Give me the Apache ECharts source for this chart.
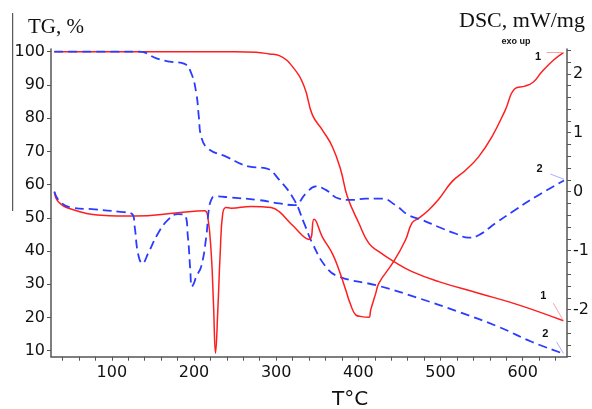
<!DOCTYPE html>
<html><head><meta charset="utf-8">
<script src="https://cdn.jsdelivr.net/npm/echarts@6/dist/echarts.min.js"></script>
<style>html,body{margin:0;padding:0;background:#fff}#c{width:592px;height:409px}</style>
</head><body><div id="c"></div>
<script>
// TG curve 1 (red, left axis)
const tg1T = [30, 100, 200, 250, 275.5, 291.7, 303.8, 319.9, 334.1, 344.2, 356.3, 368.4, 378.6, 386.6, 400.8, 412.9, 425.1, 443.3, 465.4, 497.8, 546.3, 594.8, 649.6];
const tg1V = [100, 100, 100, 100, 99.8, 99.3, 98.8, 95.5, 89.5, 80.9, 76.4, 71.4, 64.4, 56.4, 48.3, 42.3, 39.8, 36.8, 33.8, 30.8, 27.3, 23.8, 19.0];
// TG curve 2 (blue dashed, left axis)
const tg2T = [30, 100, 134, 154.3, 170.4, 188.6, 196.7, 202.8, 205.9, 208.8, 216.8, 239.1, 267.4, 287.7, 303.8, 322.0, 334.1, 344.2, 360.4, 376.5, 425.1, 473.6, 522.1, 570.6, 610.9, 648.5];
const tg2V = [100, 100, 100, 98.0, 97.0, 96.3, 93.5, 87.5, 80.4, 74.4, 70.9, 68.4, 65.4, 64.9, 61.4, 55.4, 48.3, 42.3, 35.3, 32.3, 29.5, 25.8, 21.7, 17.2, 12.7, 9.2];
// DSC curve 1 (red, right axis)
const dsc1T = [30.1, 34.9, 51.2, 87.6, 127.9, 180.5, 212.8, 216.8, 221.0, 223.7, 226.2, 229.0, 231.9, 235.0, 239.1, 245.2, 269.5, 293.7, 303.8, 319.9, 340.2, 346.2, 356.3, 368.4, 376.5, 384.7, 390.7, 396.8, 404, 412.9, 415.0, 421.1, 425.1, 443.3, 457.4, 465.4, 473.6, 485.7, 497.8, 514.0, 530.2, 546.3, 562.5, 578.7, 590.8, 602.9, 613.0, 623.1, 637.3, 649.6];
const dsc1V = [0.0, -0.17, -0.30, -0.40, -0.415, -0.36, -0.325, -0.43, -1.05, -1.89, -2.74, -2.01, -1.05, -0.37, -0.27, -0.28, -0.25, -0.27, -0.34, -0.57, -0.81, -0.47, -0.77, -1.05, -1.33, -1.67, -1.92, -2.09, -2.12, -2.13, -2.01, -1.73, -1.55, -1.18, -0.82, -0.53, -0.45, -0.31, -0.13, 0.17, 0.36, 0.59, 0.93, 1.38, 1.75, 1.79, 1.86, 2.03, 2.23, 2.36];
// DSC curve 2 (blue dashed, right axis)
const dsc2T = [30.1, 37.0, 51.2, 79.4, 107.7, 124.7, 127.9, 131.9, 137.3, 144.1, 156.2, 168.3, 180.5, 188.6, 192.6, 195.5, 197.4, 200, 202.8, 208.8, 214.9, 218.0, 221.0, 225.0, 245.2, 277.5, 303.8, 322.0, 336.2, 348.3, 360.4, 376.5, 392.7, 408.9, 429.1, 445.3, 461.4, 477.6, 497.8, 518.1, 534.2, 546.3, 566.6, 590.8, 619.1, 650.3];
const dsc2V = [0.0, -0.17, -0.27, -0.30, -0.34, -0.38, -0.60, -1.05, -1.22, -1.05, -0.71, -0.48, -0.38, -0.40, -0.77, -1.33, -1.61, -1.55, -1.44, -1.27, -0.77, -0.31, -0.14, -0.08, -0.10, -0.14, -0.20, -0.23, -0.03, 0.09, 0.03, -0.12, -0.14, -0.12, -0.12, -0.23, -0.40, -0.48, -0.60, -0.71, -0.78, -0.74, -0.54, -0.31, -0.06, 0.19];

// ticks and labels
const xTicks = [40, 60, 80, 100, 120, 140, 160, 180, 200, 220, 240, 260, 280, 300, 320, 340, 360, 380, 400, 420, 440, 460, 480, 500, 520, 540, 560, 580, 600, 620, 640];
const xLabels = [100, 200, 300, 400, 500, 600];
const tgTicks = [10, 20, 30, 40, 50, 60, 70, 80, 90, 100];
const dscTicks = [-2.8, -2.6, -2.4, -2.2, -2, -1.8, -1.6, -1.4, -1.2, -1, -0.8, -0.6, -0.4, -0.2, 0, 0.2, 0.4, 0.6, 0.8, 1, 1.2, 1.4, 1.6, 1.8, 2, 2.2, 2.4];
const dscLabels = [-2, -1, 0, 1, 2];

// curve-end indicator segments [x1, y1, x2, y2]
const ind1TopDSC = [629.2, 2.36, 650.3, 2.36];
const ind2TopDSC = [633.6, 0.30, 650.3, 0.21];
const ind1BotTG = [637.3, 24.3, 649.6, 19.0];
const ind2BotTG = [641.3, 12.6, 649.6, 9.2];

const zip = (a, b) => a.map((v, i) => [v, b[i]]);
const RED = '#ff1e1e', BLUE = '#2a3cff';
const seg = (s, color) => ({
  silent: true, symbol: ['none', 'none'], animation: false,
  label: { show: false },
  lineStyle: { color: color, width: 1, type: 'solid' },
  data: [[{ coord: [s[0], s[1]] }, { coord: [s[2], s[3]] }]]
});

const chart = echarts.init(document.getElementById('c'), null, { renderer: 'canvas' });
const axisLineStyle = { color: '#555', width: 1.5 };
const lab = { color: '#111', fontFamily: 'DejaVu Sans', fontSize: 16 };
const SM = 0.45;
chart.setOption({
  animation: false,
  backgroundColor: '#fff',
  grid: { left: 51, right: 23, top: 49, bottom: 52.3 },
  xAxis: {
    type: 'value', min: 26, max: 654,
    axisLine: { show: true, onZero: false, lineStyle: axisLineStyle },
    axisTick: { show: true, length: 4, lineStyle: { color: '#555' }, customValues: xTicks },
    axisLabel: Object.assign({ margin: 8, customValues: xLabels }, lab),
    splitLine: { show: false }
  },
  yAxis: [
    {
      type: 'value', min: 8.2, max: 100.8, position: 'left',
      axisLine: { show: true, onZero: false, lineStyle: axisLineStyle },
      axisTick: { show: true, length: 4, lineStyle: { color: '#555' }, customValues: tgTicks },
      axisLabel: Object.assign({ margin: 6, customValues: tgTicks }, lab),
      splitLine: { show: false }
    },
    {
      type: 'value', min: -2.8, max: 2.42, position: 'right',
      axisLine: { show: true, onZero: false, lineStyle: axisLineStyle },
      axisTick: { show: true, length: 4, lineStyle: { color: '#555' }, customValues: dscTicks },
      axisLabel: Object.assign({ margin: 6, customValues: dscLabels }, lab),
      splitLine: { show: false }
    }
  ],
  series: [
    { type: 'line', yAxisIndex: 0, data: zip(tg1T, tg1V), showSymbol: false, smooth: SM,
      lineStyle: { color: RED, width: 1.5 }, markLine: seg(ind1BotTG, '#f7a3a3') },
    { type: 'line', yAxisIndex: 0, data: zip(tg2T, tg2V), showSymbol: false, smooth: SM,
      lineStyle: { color: BLUE, width: 1.8, type: [9, 5] }, markLine: seg(ind2BotTG, '#a8b0ff') },
    { type: 'line', yAxisIndex: 1, data: zip(dsc1T, dsc1V), showSymbol: false, smooth: SM,
      lineStyle: { color: RED, width: 1.5 }, markLine: seg(ind1TopDSC, '#f7a3a3') },
    { type: 'line', yAxisIndex: 1, data: zip(dsc2T, dsc2V), showSymbol: false, smooth: SM,
      lineStyle: { color: BLUE, width: 1.8, type: [9, 5] }, markLine: seg(ind2TopDSC, '#a8b0ff') }
  ],
  graphic: [
    { type: 'line', shape: { x1: 12.7, y1: 13, x2: 12.7, y2: 211 }, style: { stroke: '#333', lineWidth: 1 } },
    { type: 'text', style: { text: 'TG, %', x: 28, y: 27.5, font: '21px "Liberation Serif"', fill: '#111', textAlign: 'left', align: 'left', textVerticalAlign: 'middle', verticalAlign: 'middle' } },
    { type: 'text', style: { text: 'DSC, mW/mg', x: 459, y: 21.5, font: '22px "Liberation Serif"', fill: '#111', textAlign: 'left', align: 'left', textVerticalAlign: 'middle', verticalAlign: 'middle' } },
    { type: 'text', style: { text: 'exo up', x: 516, y: 42, font: 'bold 9px "Liberation Sans"', fill: '#111', textAlign: 'center', align: 'center', textVerticalAlign: 'middle', verticalAlign: 'middle' } },
    { type: 'text', style: { text: '1', x: 538, y: 57, font: 'bold 11px "Liberation Sans"', fill: '#111', textAlign: 'center', align: 'center', textVerticalAlign: 'middle', verticalAlign: 'middle' } },
    { type: 'text', style: { text: '2', x: 539.5, y: 169, font: 'bold 11px "Liberation Sans"', fill: '#111', textAlign: 'center', align: 'center', textVerticalAlign: 'middle', verticalAlign: 'middle' } },
    { type: 'text', style: { text: '1', x: 543.3, y: 295.5, font: 'bold 11px "Liberation Sans"', fill: '#111', textAlign: 'center', align: 'center', textVerticalAlign: 'middle', verticalAlign: 'middle' } },
    { type: 'text', style: { text: '2', x: 545.3, y: 334, font: 'bold 11px "Liberation Sans"', fill: '#111', textAlign: 'center', align: 'center', textVerticalAlign: 'middle', verticalAlign: 'middle' } },
    { type: 'text', style: { text: 'T°C', x: 350, y: 399.5, font: '20px "DejaVu Sans"', fill: '#111', textAlign: 'center', align: 'center', textVerticalAlign: 'middle', verticalAlign: 'middle' } }
  ]
});
</script>
</body></html>
